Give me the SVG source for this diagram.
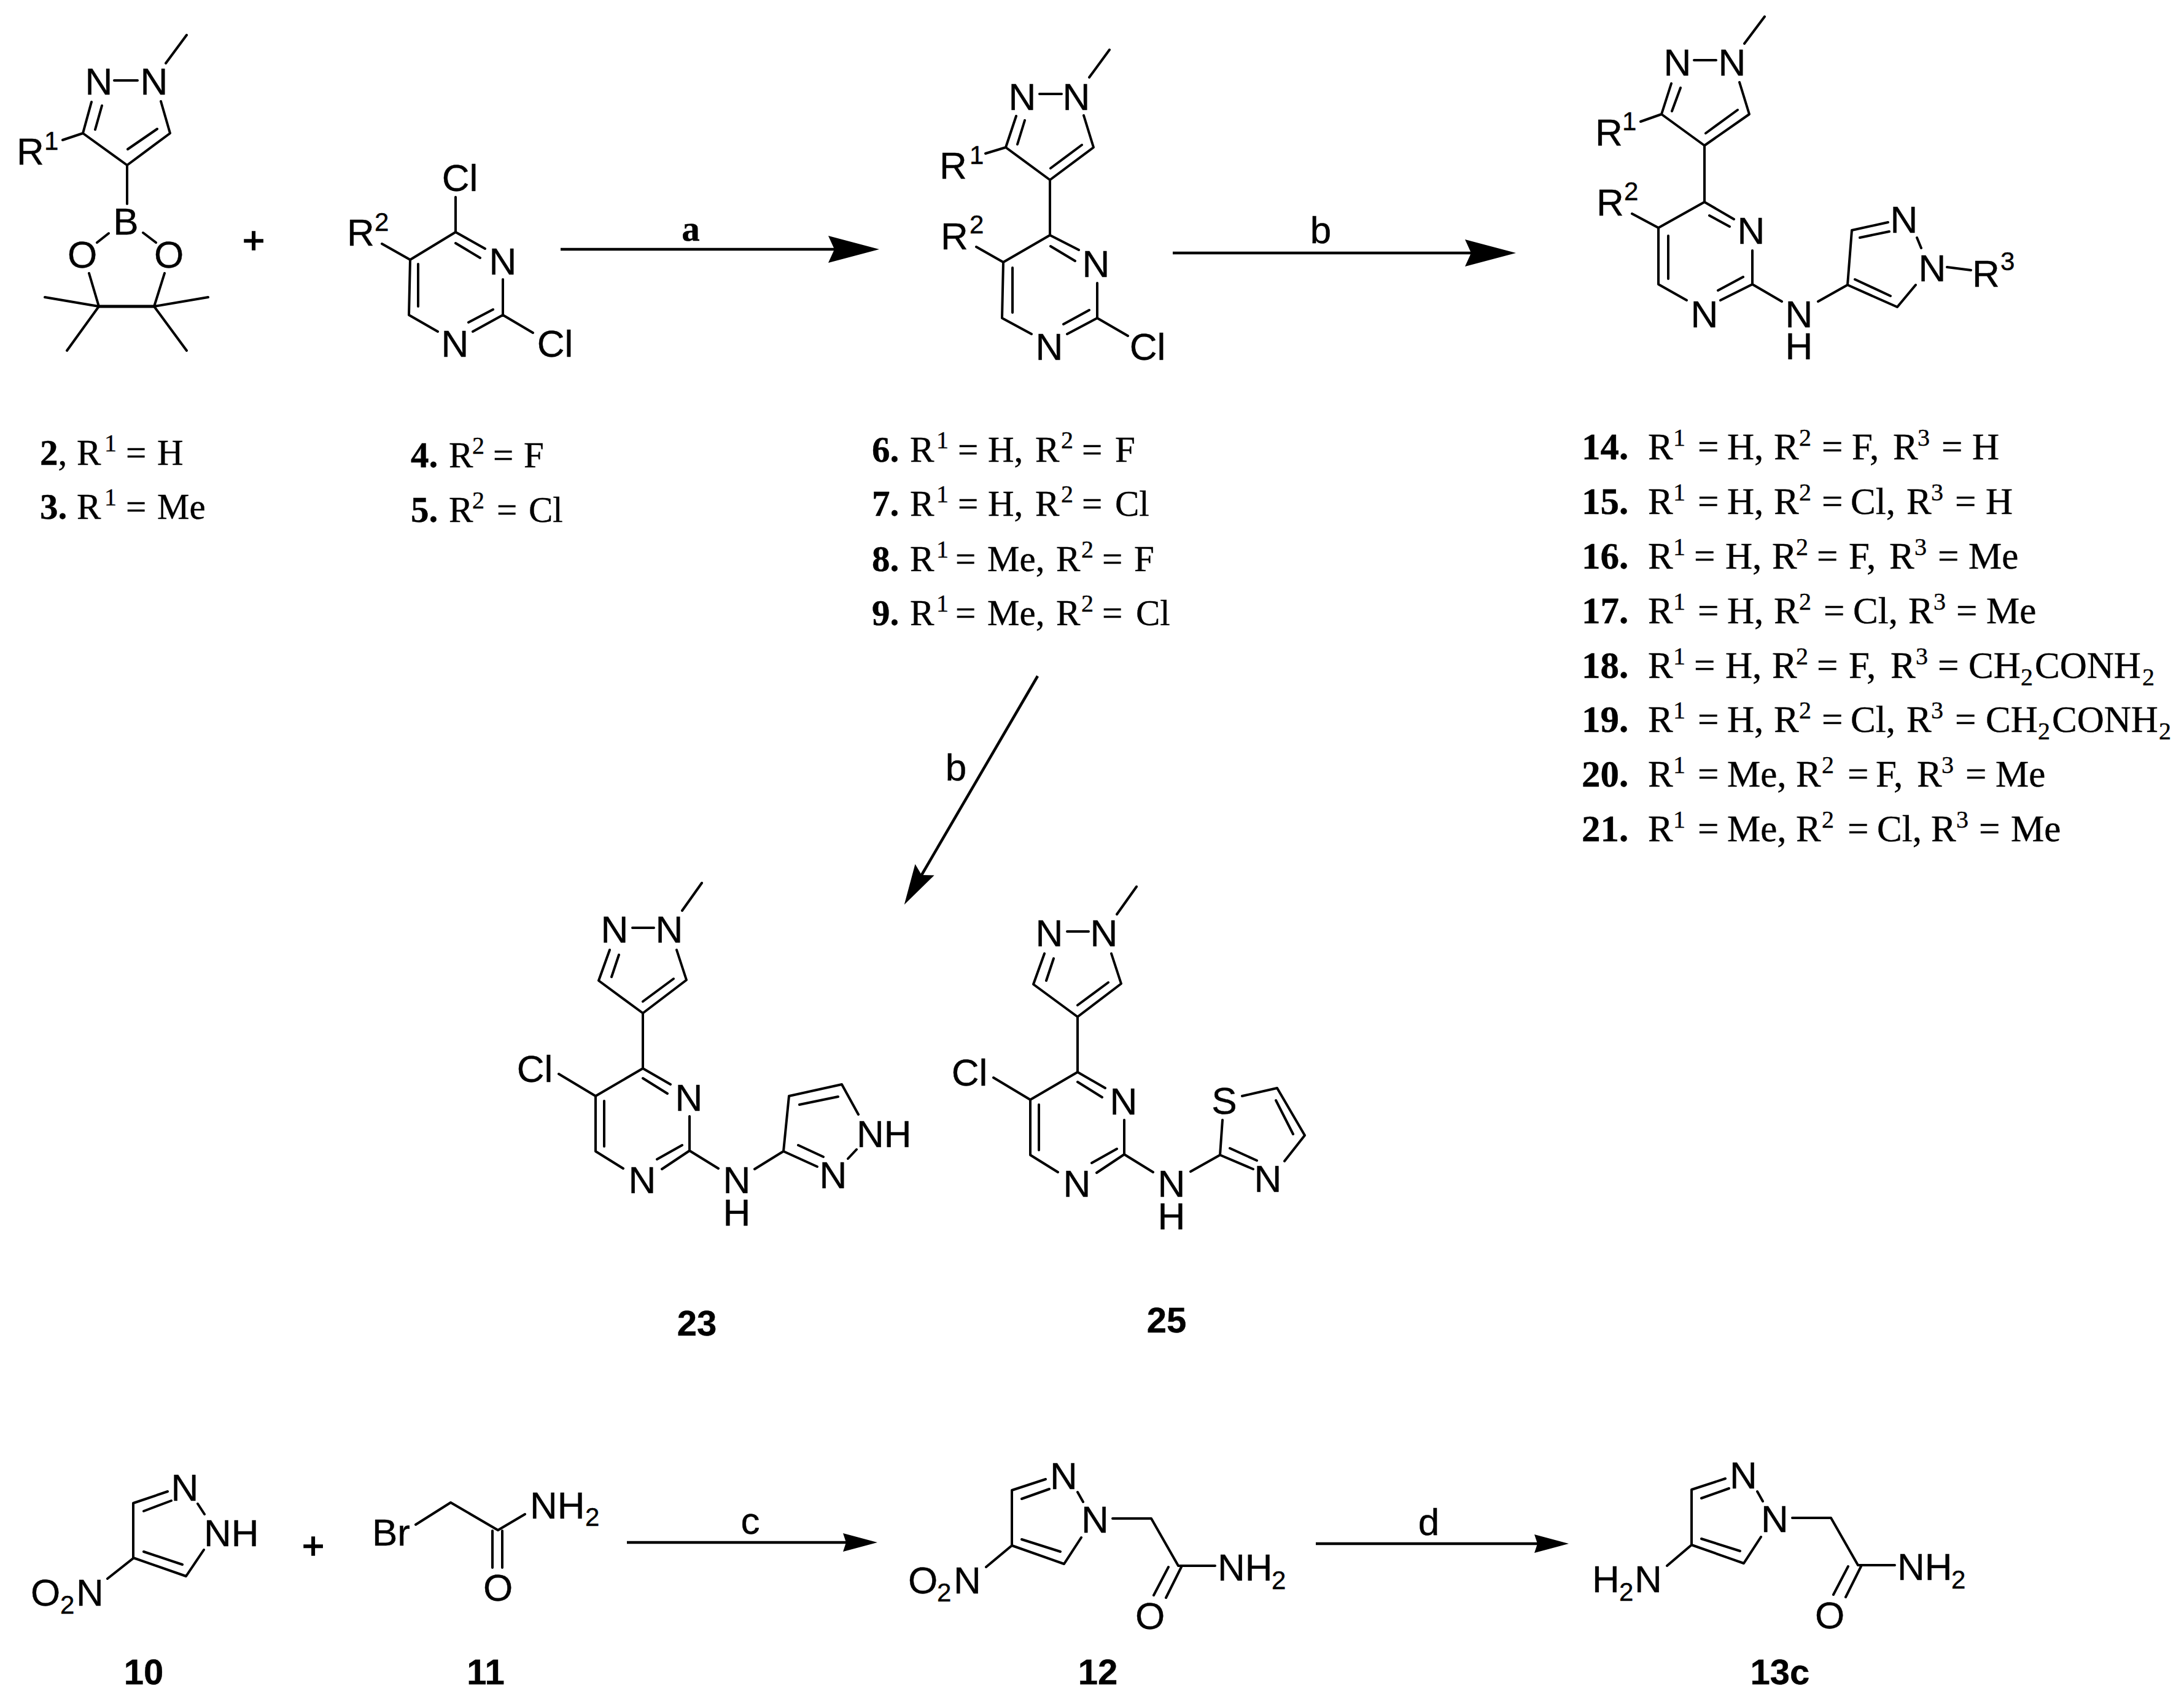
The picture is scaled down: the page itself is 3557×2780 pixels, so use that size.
<svg xmlns="http://www.w3.org/2000/svg" width="3557" height="2780" viewBox="0 0 3557 2780">
<style>
.bg{fill:#fff}
path.k{fill:none;stroke:#000;stroke-width:4;stroke-linecap:round;stroke-linejoin:round}
.arr{fill:none;stroke:#000;stroke-width:4.5}
text{fill:#000;stroke:#000;stroke-width:.4;font-family:"Liberation Sans",Arial,sans-serif;font-size:62px}
.m{text-anchor:middle}
.u{font-size:42px}
.lab{font-family:"Liberation Serif","Times New Roman",serif;font-size:59px}
.w{font-size:61px}
.lab .s{font-size:40px}
.n{font-weight:bold}
.id{font-weight:bold;text-anchor:middle;font-size:58px}
.p{stroke-width:1.6}
</style>
<defs>
<marker id="hl" markerUnits="userSpaceOnUse" markerWidth="90" markerHeight="50" refX="10" refY="22" orient="auto"><path d="M0,0L83,22L0,44L10,22Z" fill="#000"/></marker>
<marker id="hm" markerUnits="userSpaceOnUse" markerWidth="72" markerHeight="40" refX="10" refY="18" orient="auto"><path d="M0,0L66,18L0,36L10,18Z" fill="#000"/></marker>
<marker id="hs" markerUnits="userSpaceOnUse" markerWidth="60" markerHeight="32" refX="5" refY="15" orient="auto"><path d="M0,0L56,15L0,30L5,15Z" fill="#000"/></marker>
</defs>
<rect class="bg" width="3557" height="2780"/>

<g id="connectors">
<path class="arr" d="M913,406H1359" marker-end="url(#hl)"/>
<path class="arr" d="M1910,412H2396" marker-end="url(#hl)"/>
<path class="arr" d="M1690,1101L1501,1425" marker-end="url(#hm)"/>
<path class="arr" d="M1021,2512H1378" marker-end="url(#hs)"/>
<path class="arr" d="M2143,2514H2504" marker-end="url(#hs)"/>
<text class="lab n m" x="1125" y="392">a</text>
<text class="m" x="2151" y="396">b</text>
<text class="m" x="1557" y="1271">b</text>
<text class="m" x="1222" y="2498">c</text>
<text class="m" x="2327" y="2500">d</text>
</g>

<g id="compound-2">
<path class="k" d="M304,57L270,103M186,131H224M149,166L135,217L207,269L277,217L262,165M166,172L155,211M208,243L256,210M102,228L135,217M207,269V332M177,380L158,395M233,379L254,395M145,445L161,499H251L268,445M73,484L161,499L109,571M339,484L251,499L304,571"/>
<path class="k" d="M161,499H251" style="stroke-width:5"/>
<text class="m" x="161" y="154">N</text><text class="m" x="251" y="154">N</text>
<text x="27" y="268">R</text><text class="u" x="72" y="244">1</text>
<text class="m" x="205" y="382">B</text>
<text class="m" x="134" y="436">O</text><text class="m" x="275" y="436">O</text>
</g>
<text id="plus-1" class="m p" x="413" y="412">+</text>

<g id="compound-4">
<path class="k" d="M742,321V378L790,405M742,396L782,420M819,455V513L868,542M770,540L819,513M763,525L803,504M713,540L666,513L668,423L742,378M681,430V499M622,397L668,423"/>
<text class="m" x="749" y="311">Cl</text>
<text class="m" x="819" y="447">N</text>
<text class="m" x="904" y="581">Cl</text>
<text class="m" x="741" y="581">N</text>
<text x="565" y="400">R</text><text class="u" x="610" y="376">2</text>
</g>

<g id="compound-6">
<path class="k" d="M1807,81L1774,126M1693,153H1729M1655,189L1638,240L1710,293L1781,240L1765,188M1669,196L1657,235M1711,274L1762,236M1605,250L1638,240M1710,293V383L1757,407M1711,401L1751,425M1787,461V518L1837,547M1738,544L1787,518M1732,528L1774,505M1680,544L1632,518L1634,427L1710,383M1649,436V509M1590,402L1634,427"/>
<text class="m" x="1665" y="179">N</text><text class="m" x="1753" y="179">N</text>
<text x="1530" y="291">R</text><text class="u" x="1579" y="267">1</text>
<text class="m" x="1785" y="451">N</text>
<text class="m" x="1709" y="586">N</text>
<text class="m" x="1869" y="586">Cl</text>
<text x="1532" y="406">R</text><text class="u" x="1579" y="380">2</text>
</g>

<g id="compound-14">
<path class="k" d="M2874,27L2841,71M2759,98H2795M2722,136L2706,186L2776,237L2849,186L2833,134M2737,143L2723,181M2778,217L2830,179M2672,198L2706,186M2776,237V329L2824,357M2784,351L2817,369M2854,408V463L2902,491M2802,489L2854,463M2798,473L2839,451M2747,489L2701,463V371L2776,329M2717,384V454M2658,348L2701,371M2961,491L3009,464L3016,375L3075,362M3029,387L3077,377M3122,387L3129,404M3120,464L3090,500L3009,464M3079,482L3021,455M3171,435L3210,440"/>
<text class="m" x="2732" y="123">N</text><text class="m" x="2821" y="123">N</text>
<text x="2598" y="237">R</text><text class="u" x="2642" y="212">1</text>
<text class="m" x="2852" y="397">N</text><text class="m" x="2776" y="533">N</text>
<text x="2600" y="351">R</text><text class="u" x="2645" y="326">2</text>
<text class="m" x="2930" y="533">N</text><text class="m" x="2930" y="585">H</text>
<text class="m" x="3101" y="379">N</text><text class="m" x="3147" y="458">N</text>
<text x="3212" y="467">R</text><text class="u" x="3258" y="440">3</text>
</g>

<g id="compound-23">
<path class="k" d="M1143,1438L1111,1483M1030,1511H1065M993,1547L975,1597L1047,1650L1118,1596L1102,1547M1008,1555L996,1591M1047,1631L1097,1594M1047,1650V1740L1092,1766M1047,1756L1087,1781M1123,1818V1874L1170,1903M1078,1904L1123,1874M1070,1888L1111,1865M1015,1903L970,1875V1785L1047,1740M984,1793V1867M910,1749L970,1785"/>
<path class="k" d="M1229,1904L1276,1875L1285,1785L1371,1766L1398,1815M1302,1799L1365,1786M1395,1872L1381,1887M1276,1875L1331,1900M1300,1865L1341,1884"/>
<text class="m" x="1001" y="1535">N</text><text class="m" x="1090" y="1535">N</text>
<text class="m" x="871" y="1762">Cl</text><text class="m" x="1122" y="1809">N</text><text class="m" x="1046" y="1943">N</text>
<text class="m" x="1200" y="1943">N</text><text class="m" x="1200" y="1996">H</text>
<text x="1395" y="1868">NH</text><text class="m" x="1357" y="1935">N</text>
</g>

<g id="compound-25">
<g transform="translate(708 6)">
<path class="k" d="M1143,1438L1111,1483M1030,1511H1065M993,1547L975,1597L1047,1650L1118,1596L1102,1547M1008,1555L996,1591M1047,1631L1097,1594M1047,1650V1740L1092,1766M1047,1756L1087,1781M1123,1818V1874L1170,1903M1078,1904L1123,1874M1070,1888L1111,1865M1015,1903L970,1875V1785L1047,1740M984,1793V1867M910,1749L970,1785"/>
<text class="m" x="1001" y="1535">N</text><text class="m" x="1090" y="1535">N</text>
<text class="m" x="871" y="1762">Cl</text><text class="m" x="1122" y="1809">N</text><text class="m" x="1046" y="1943">N</text>
<text class="m" x="1200" y="1943">N</text><text class="m" x="1200" y="1996">H</text>
</g>
<path class="k" d="M1939,1908L1987,1881L1991,1824M2023,1785L2080,1772L2125,1849L2092,1891M2078,1792L2106,1847M1987,1881L2041,1904M2003,1870L2047,1890"/>
<text class="m" x="1994" y="1814">S</text><text class="m" x="2065" y="1941">N</text>
</g>

<g id="compound-10">
<path class="k" d="M273,2429L217,2448V2537L303,2567L332,2524M234,2461L279,2444M234,2527L297,2548M322,2449L333,2466M218,2537L175,2571"/>
<text class="m" x="301" y="2444">N</text>
<text x="332" y="2518">NH</text>
<text x="50" y="2615">O</text><text class="u" x="98" y="2628">2</text><text x="124" y="2615">N</text>
</g>
<text id="plus-2" class="m p" x="510" y="2538">+</text>

<g id="compound-11">
<path class="k" d="M677,2483L734,2447L811,2492L855,2466M802,2493V2553M818,2493V2553"/>
<text x="606" y="2517">Br</text>
<text x="863" y="2473">NH</text><text class="u" x="953" y="2485">2</text>
<text class="m" x="811" y="2607">O</text>
</g>

<g id="compound-12">
<path class="k" d="M1703,2409L1648,2427V2517L1733,2547L1761,2504M1664,2441L1709,2425M1664,2507L1727,2527M1755,2430L1764,2446M1648,2517L1606,2552M1812,2473H1875L1919,2550H1979M1924,2552L1899,2602M1903,2552L1879,2598"/>
<text x="1710" y="2425">N</text><text x="1761" y="2496">N</text>
<text x="1479" y="2595">O</text><text class="u" x="1526" y="2608">2</text><text x="1553" y="2595">N</text>
<text x="1983" y="2574">NH</text><text class="u" x="2071" y="2588">2</text>
<text class="m" x="1873" y="2653">O</text>
</g>

<g id="compound-13c">
<g transform="translate(1107 -1)">
<path class="k" d="M1703,2409L1648,2427V2517L1733,2547L1761,2504M1664,2441L1709,2425M1664,2507L1727,2527M1755,2430L1764,2446M1648,2517L1608,2551M1812,2473H1875L1919,2550H1979M1924,2552L1899,2602M1903,2552L1879,2598"/>
<text x="1710" y="2425">N</text><text x="1761" y="2496">N</text>
<text x="1983" y="2574">NH</text><text class="u" x="2071" y="2588">2</text>
<text class="m" x="1873" y="2653">O</text>
</g>
<text x="2593" y="2593">H</text><text class="u" x="2637" y="2607">2</text><text x="2662" y="2593">N</text>
</g>

<g id="labels">
<text class="lab" y="757"><tspan class="n" x="65">2</tspan>,<tspan x="125">R</tspan><tspan class="s" x="170" dy="-22">1</tspan><tspan x="205" dy="22">=</tspan><tspan x="256">H</tspan></text>
<text class="lab" y="845"><tspan class="n" x="65">3.</tspan><tspan x="125">R</tspan><tspan class="s" x="170" dy="-22">1</tspan><tspan x="205" dy="22">=</tspan><tspan x="256">Me</tspan></text>
<text class="lab" y="761"><tspan class="n" x="669">4.</tspan><tspan x="731">R</tspan><tspan class="s" x="769" dy="-22">2</tspan><tspan x="803" dy="22">=</tspan><tspan x="853">F</tspan></text>
<text class="lab" y="850"><tspan class="n" x="669">5.</tspan><tspan x="731">R</tspan><tspan class="s" x="769" dy="-22">2</tspan><tspan x="809" dy="22">=</tspan><tspan x="861">Cl</tspan></text>

<text class="lab" y="752"><tspan class="n" x="1420">6.</tspan><tspan x="1482">R</tspan><tspan class="s" x="1525" dy="-22">1</tspan><tspan x="1560" dy="22">=</tspan><tspan x="1609">H,</tspan><tspan x="1686">R</tspan><tspan class="s" x="1728" dy="-22">2</tspan><tspan x="1762" dy="22">=</tspan><tspan x="1816">F</tspan></text>
<text class="lab" y="840"><tspan class="n" x="1420">7.</tspan><tspan x="1482">R</tspan><tspan class="s" x="1525" dy="-22">1</tspan><tspan x="1560" dy="22">=</tspan><tspan x="1609">H,</tspan><tspan x="1686">R</tspan><tspan class="s" x="1728" dy="-22">2</tspan><tspan x="1762" dy="22">=</tspan><tspan x="1816">Cl</tspan></text>
<text class="lab" y="930"><tspan class="n" x="1420">8.</tspan><tspan x="1482">R</tspan><tspan class="s" x="1525" dy="-22">1</tspan><tspan x="1556" dy="22">=</tspan><tspan x="1608">Me,</tspan><tspan x="1720">R</tspan><tspan class="s" x="1761" dy="-22">2</tspan><tspan x="1795" dy="22">=</tspan><tspan x="1847">F</tspan></text>
<text class="lab" y="1018"><tspan class="n" x="1420">9.</tspan><tspan x="1482">R</tspan><tspan class="s" x="1525" dy="-22">1</tspan><tspan x="1556" dy="22">=</tspan><tspan x="1608">Me,</tspan><tspan x="1720">R</tspan><tspan class="s" x="1761" dy="-22">2</tspan><tspan x="1795" dy="22">=</tspan><tspan x="1850">Cl</tspan></text>

<text class="lab w" y="748"><tspan class="n" x="2576">14.</tspan><tspan x="2684">R</tspan><tspan class="s" x="2725" dy="-22">1</tspan><tspan x="2765" dy="22">=</tspan><tspan x="2813">H,</tspan><tspan x="2889">R</tspan><tspan class="s" x="2930" dy="-22">2</tspan><tspan x="2967" dy="22">=</tspan><tspan x="3016">F,</tspan><tspan x="3083">R</tspan><tspan class="s" x="3123" dy="-22">3</tspan><tspan x="3162" dy="22">=</tspan><tspan x="3212">H</tspan></text>
<text class="lab w" y="837"><tspan class="n" x="2576">15.</tspan><tspan x="2684">R</tspan><tspan class="s" x="2725" dy="-22">1</tspan><tspan x="2765" dy="22">=</tspan><tspan x="2813">H,</tspan><tspan x="2889">R</tspan><tspan class="s" x="2930" dy="-22">2</tspan><tspan x="2967" dy="22">=</tspan><tspan x="3014">Cl,</tspan><tspan x="3105">R</tspan><tspan class="s" x="3145" dy="-22">3</tspan><tspan x="3184" dy="22">=</tspan><tspan x="3234">H</tspan></text>
<text class="lab w" y="926"><tspan class="n" x="2576">16.</tspan><tspan x="2684">R</tspan><tspan class="s" x="2725" dy="-22">1</tspan><tspan x="2759" dy="22">=</tspan><tspan x="2810">H,</tspan><tspan x="2886">R</tspan><tspan class="s" x="2925" dy="-22">2</tspan><tspan x="2959" dy="22">=</tspan><tspan x="3011">F,</tspan><tspan x="3077">R</tspan><tspan class="s" x="3118" dy="-22">3</tspan><tspan x="3156" dy="22">=</tspan><tspan x="3206">Me</tspan></text>
<text class="lab w" y="1015"><tspan class="n" x="2576">17.</tspan><tspan x="2684">R</tspan><tspan class="s" x="2725" dy="-22">1</tspan><tspan x="2765" dy="22">=</tspan><tspan x="2813">H,</tspan><tspan x="2889">R</tspan><tspan class="s" x="2930" dy="-22">2</tspan><tspan x="2970" dy="22">=</tspan><tspan x="3018">Cl,</tspan><tspan x="3108">R</tspan><tspan class="s" x="3149" dy="-22">3</tspan><tspan x="3186" dy="22">=</tspan><tspan x="3235">Me</tspan></text>
<text class="lab w" y="1104"><tspan class="n" x="2576">18.</tspan><tspan x="2684">R</tspan><tspan class="s" x="2725" dy="-22">1</tspan><tspan x="2759" dy="22">=</tspan><tspan x="2810">H,</tspan><tspan x="2886">R</tspan><tspan class="s" x="2925" dy="-22">2</tspan><tspan x="2959" dy="22">=</tspan><tspan x="3011">F,</tspan><tspan x="3079">R</tspan><tspan class="s" x="3120" dy="-22">3</tspan><tspan x="3156" dy="22">=</tspan><tspan x="3206">CH</tspan><tspan class="s" x="3291" dy="12">2</tspan><tspan x="3314" dy="-12">CONH</tspan><tspan class="s" x="3489" dy="12">2</tspan></text>
<text class="lab w" y="1192"><tspan class="n" x="2576">19.</tspan><tspan x="2684">R</tspan><tspan class="s" x="2725" dy="-22">1</tspan><tspan x="2765" dy="22">=</tspan><tspan x="2813">H,</tspan><tspan x="2889">R</tspan><tspan class="s" x="2930" dy="-22">2</tspan><tspan x="2967" dy="22">=</tspan><tspan x="3014">Cl,</tspan><tspan x="3105">R</tspan><tspan class="s" x="3145" dy="-22">3</tspan><tspan x="3184" dy="22">=</tspan><tspan x="3234">CH</tspan><tspan class="s" x="3319" dy="12">2</tspan><tspan x="3342" dy="-12">CONH</tspan><tspan class="s" x="3516" dy="12">2</tspan></text>
<text class="lab w" y="1281"><tspan class="n" x="2576">20.</tspan><tspan x="2684">R</tspan><tspan class="s" x="2725" dy="-22">1</tspan><tspan x="2765" dy="22">=</tspan><tspan x="2813">Me,</tspan><tspan x="2925">R</tspan><tspan class="s" x="2967" dy="-22">2</tspan><tspan x="3009" dy="22">=</tspan><tspan x="3055">F,</tspan><tspan x="3122">R</tspan><tspan class="s" x="3162" dy="-22">3</tspan><tspan x="3201" dy="22">=</tspan><tspan x="3250">Me</tspan></text>
<text class="lab w" y="1370"><tspan class="n" x="2576">21.</tspan><tspan x="2684">R</tspan><tspan class="s" x="2725" dy="-22">1</tspan><tspan x="2765" dy="22">=</tspan><tspan x="2813">Me,</tspan><tspan x="2925">R</tspan><tspan class="s" x="2967" dy="-22">2</tspan><tspan x="3009" dy="22">=</tspan><tspan x="3057">Cl,</tspan><tspan x="3145">R</tspan><tspan class="s" x="3186" dy="-22">3</tspan><tspan x="3223" dy="22">=</tspan><tspan x="3275">Me</tspan></text>

<text class="id" x="1135" y="2175">23</text>
<text class="id" x="1900" y="2170">25</text>
<text class="id" x="234" y="2743">10</text>
<text class="id" x="791" y="2743">11</text>
<text class="id" x="1788" y="2743">12</text>
<text class="id" x="2899" y="2743">13c</text>
</g>
</svg>
